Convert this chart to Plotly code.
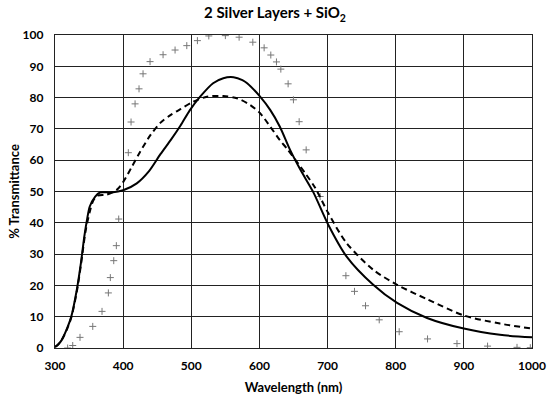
import plotly.graph_objects as go

solid_x = [300, 305, 310, 318, 324, 332, 338, 343, 347, 351, 359, 366, 383, 400, 420, 438, 455, 470, 484, 498, 513, 532, 547, 562, 575, 582, 601, 616, 630, 645, 660, 679, 701, 728, 767, 802, 846, 900, 953, 1000]
solid_y = [0.3, 1.2, 2.6, 6.4, 10.1, 18.6, 27.1, 35.6, 41, 45.2, 48.4, 49.7, 49.7, 50.4, 52.6, 56.5, 62, 66.5, 71, 76, 80.3, 84.6, 86.2, 86.5, 85.6, 84.6, 80.3, 76, 70.7, 63.3, 57, 49.8, 39.4, 29.2, 20.2, 14.4, 9.6, 6.2, 4.2, 3.4]

dash_x = [300, 305, 310, 318, 324, 332, 338, 345, 351, 356, 362, 376, 391, 400, 413, 425, 440, 455, 470, 484, 503, 523, 547, 567, 586, 601, 616, 630, 640, 667, 682, 701, 728, 767, 802, 846, 900, 953, 1000]
dash_y = [0.3, 1.2, 2.6, 6.2, 9.8, 18, 26.5, 37.5, 43.5, 47, 48.7, 49, 50.6, 53, 58, 62.7, 68, 72, 74.5, 76.3, 78.7, 80.3, 80.5, 79.8, 77.7, 75, 70.7, 66.4, 63.8, 55.9, 51.1, 43.1, 33.5, 25, 20.2, 15.6, 10.4, 7.8, 6.2]

mark_x = [318.6, 326, 336.7, 355.4, 369, 378.3, 381.2, 386.2, 390, 393.5, 407.6, 411.6, 417.5, 423.3, 429.2, 439.5, 458.6, 476.2, 493.4, 509, 525.7, 550, 570.2, 590.3, 606.9, 616.7, 625, 631.4, 642.1, 649.9, 658.3, 668.6, 689.1, 726.9, 739.5, 755.7, 775.8, 805.1, 846.7, 889.9, 934.8, 978, 997.5]
mark_y = [0, 0.8, 3.4, 6.9, 11.7, 17.6, 22.5, 27.9, 32.7, 41.2, 62.4, 72.2, 78, 82.8, 87.6, 91.5, 93.7, 95.2, 96.6, 98.2, 99.7, 99.8, 99.3, 97.7, 95.9, 93.6, 91.4, 89.1, 84.4, 79.3, 72.3, 63.3, 48.4, 23.1, 18.1, 13.5, 9.0, 5.2, 2.9, 1.4, 0.6, 0.2, 0.1]

x_ticks = [300, 400, 500, 600, 700, 800, 900, 1000]
y_ticks = [0, 10, 20, 30, 40, 50, 60, 70, 80, 90, 100]

FONT = "Lato"

fig = go.Figure()
fig.add_trace(go.Scatter(x=mark_x, y=mark_y, mode="markers",
                         marker=dict(symbol="cross-thin", size=5, color="#777777",
                                     line=dict(width=1, color="#777777")),
                         showlegend=False))
fig.add_trace(go.Scatter(x=dash_x, y=dash_y, mode="lines",
                         line=dict(color="black", width=2, dash="6px,4px", shape="spline", smoothing=0.8),
                         showlegend=False))
fig.add_trace(go.Scatter(x=solid_x, y=solid_y, mode="lines",
                         line=dict(color="black", width=2, shape="spline", smoothing=0.8),
                         showlegend=False))

fig.update_layout(
    width=550, height=399,
    margin=dict(l=55, r=18, t=35, b=51, autoexpand=False),
    paper_bgcolor="white", plot_bgcolor="white",
    font=dict(family=FONT, color="black"),
    title=dict(text="2 Silver Layers + SiO<sub>2</sub>", x=0.5, xanchor="center",
               y=0.967, yanchor="middle", automargin=False,
               font=dict(family=FONT, size=15, weight="bold", color="black")),
)
fig.update_xaxes(range=[300, 1000], tickvals=x_ticks, ticktext=[str(v) for v in x_ticks],
                 showgrid=True, gridcolor="#222222", gridwidth=1.3,
                 showline=True, linecolor="#222222", linewidth=1.3, mirror=True,
                 zeroline=False, ticks="", ticklabelstandoff=6, automargin=False,
                 tickfont=dict(family=FONT, size=12, weight="bold"),
                 title=dict(text="Wavelength (nm)", standoff=11,
                            font=dict(family=FONT, size=13, weight="bold")))
fig.update_yaxes(range=[0, 100], tickvals=y_ticks, ticktext=[str(v) for v in y_ticks],
                 showgrid=True, gridcolor="#222222", gridwidth=1.3,
                 showline=True, linecolor="#222222", linewidth=1.3, mirror=True,
                 zeroline=False, ticks="", ticklabelstandoff=8, automargin=False,
                 tickfont=dict(family=FONT, size=12, weight="bold"),
                 title=dict(text="% Transmittance", standoff=0,
                            font=dict(family=FONT, size=13, weight="bold")))

fig.write_html("out.html", config={"displayModeBar": False},
               post_script="document.body.style.margin='0';document.body.style.padding='0';")
